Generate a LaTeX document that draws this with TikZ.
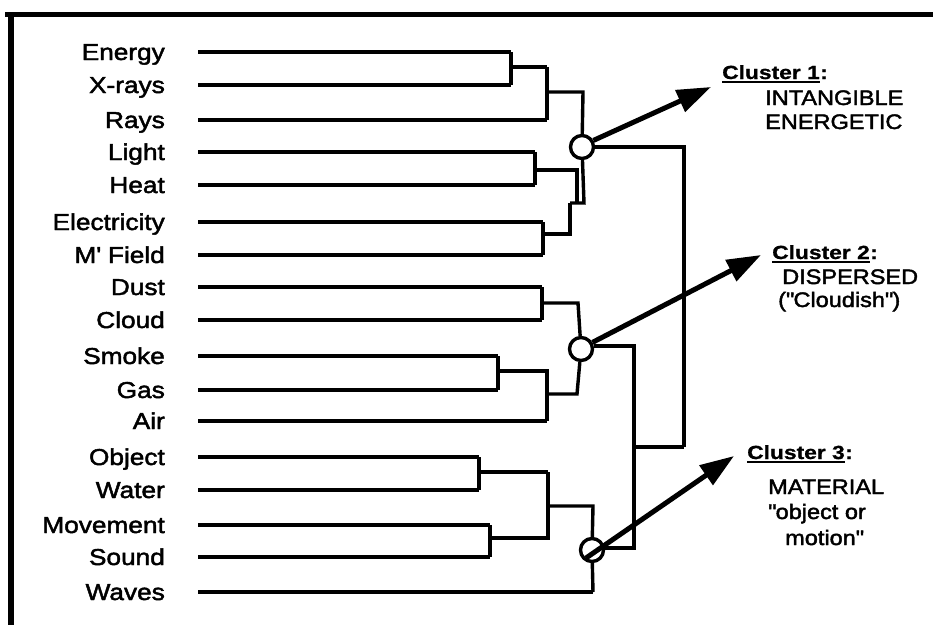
\documentclass[tikz,border=0pt]{standalone}
\usepackage{fontspec}
\usetikzlibrary{arrows.meta}
\newfontfamily\lblfont{Liberation Sans}[FakeStretch=1.14, FakeBold=2]
\newfontfamily\clfont{Liberation Sans}[FakeStretch=1.12, FakeBold=2]
\newfontfamily\hdrfont{Liberation Sans Bold}[FakeStretch=1.2, FakeBold=1]
\tikzset{
  lbl/.style={font=\lblfont\fontsize{23}{26}\selectfont, inner sep=0pt, anchor=base east},
  cltxt/.style={font=\clfont\fontsize{21}{24}\selectfont, inner sep=0pt, anchor=base west},
  hdr/.style={font=\hdrfont\fontsize{19}{22}\selectfont, inner sep=0pt, anchor=base west},
  den/.style={line width=3.4pt, line cap=butt, line join=miter},
  knot/.style={draw, line width=3.4pt, circle, minimum size=23pt, inner sep=0pt, fill=white},
  bigarrow/.style={line width=5pt, -{Triangle[length=34pt,width=23pt]}},
}
\newcommand\leafrow[4]{%
  \node[lbl] (#1) at (165,#3+8) {#2};
  \coordinate (#1s) at (198,#3);
  \coordinate (#1e) at (#4,#3);
  \draw[den] (#1s) -- (#1e);}
\begin{document}
\begin{tikzpicture}[x=1pt,y=-1pt]
\useasboundingbox (0,0) rectangle (933,625);
% frame
\coordinate (ftl) at (11,14.5);
\coordinate (ftr) at (933,14.5);
\coordinate (fbl) at (11,625);
\draw[line width=4.5pt] (5,14.5) -- (ftr);
\draw[line width=6pt] (ftl) -- (fbl);
% leaves
\leafrow{energy}{Energy}{52}{511}
\leafrow{xrays}{X-rays}{85}{511}
\leafrow{rays}{Rays}{120}{547}
\leafrow{light}{Light}{152}{535}
\leafrow{heat}{Heat}{185}{535}
\leafrow{elec}{Electricity}{222}{543}
\leafrow{mfield}{M\textquotesingle\ Field}{255}{543}
\leafrow{dust}{Dust}{287}{542}
\leafrow{cloud}{Cloud}{320}{542}
\leafrow{smoke}{Smoke}{356}{498}
\leafrow{gas}{Gas}{390}{498}
\leafrow{air}{Air}{421}{547}
\leafrow{object}{Object}{457}{479}
\leafrow{water}{Water}{490}{479}
\leafrow{movement}{Movement}{525}{490}
\leafrow{sound}{Sound}{557}{490}
\leafrow{waves}{Waves}{592}{593}
% knots
\node[knot] (k1) at (582,147) {};
\node[knot] (k2) at (581,349) {};
\node[knot] (k3) at (592,550) {};
% cluster 1
\draw[den] (energye) -- (xrayse);
\coordinate (a1) at (511,67); \coordinate (a2) at (547,67);
\draw[den] (a1) -- (a2);
\draw[den] (a2) -- (rayse);
\coordinate (b1) at (547,92); \coordinate (b2) at (583,92);
\draw[den] (b1) -- (b2) -- (k1);
\draw[den] (lighte) -- (heate);
\coordinate (c1) at (535,170); \coordinate (c2) at (577,170); \coordinate (c3) at (577,203);
\draw[den] (c1) -- (c2) -- (c3);
\draw[den] (elece) -- (mfielde);
\coordinate (d1) at (543,234); \coordinate (d2) at (570,234); \coordinate (d3) at (570,203);
\draw[den] (d1) -- (d2) -- (d3);
\coordinate (e1) at (584,203);
\draw[den] (d3) -- (e1) -- (k1);
% cluster 2
\draw[den] (duste) -- (cloude);
\coordinate (f1) at (542,303); \coordinate (f2) at (578,303);
\draw[den] (f1) -- (f2) -- (k2);
\draw[den] (smokee) -- (gase);
\coordinate (g1) at (498,371); \coordinate (g2) at (547,371);
\draw[den] (g1) -- (g2) -- (aire);
\coordinate (h1) at (547,394); \coordinate (h2) at (577,394);
\draw[den] (h1) -- (h2) -- (k2);
% cluster 3
\draw[den] (objecte) -- (watere);
\coordinate (i1) at (479,472); \coordinate (i2) at (548,472);
\draw[den] (i1) -- (i2);
\draw[den] (movemente) -- (sounde);
\coordinate (j1) at (490,538); \coordinate (j2) at (548,538);
\draw[den] (j1) -- (j2) -- (i2);
\coordinate (l1) at (548,506); \coordinate (l2) at (593,506);
\draw[den] (l1) -- (l2) -- (k3);
\draw[den] (wavese) -- (k3);
% joins between clusters
\coordinate (m1) at (684,147); \coordinate (m2) at (684,447);
\draw[den] (k1.east) -- (m1) -- (m2);
\coordinate (n1) at (634,346); \coordinate (n2) at (634,548); \coordinate (n3) at (634,447);
\draw[den] (k2.east |- n1) -- (n1) -- (n2) -- (k3.east |- n2);
\draw[den] (n3) -- (m2);
% arrows
\coordinate (t1) at (711,87);
\coordinate (t2) at (761,255);
\coordinate (t3) at (734,456);
\draw[bigarrow] (k1.30) -- (t1);
\draw[bigarrow] (k2.30) -- (t2);
\draw[bigarrow] ([shift={(-6,8)}]k3.center) -- (t3);
% cluster labels
\node[hdr] (h1t) at (722,79) {Cluster 1};
\node[hdr] (h1c) at (h1t.base east) {:};
\draw[line width=2.2pt] ([yshift=-3]h1t.base west) -- ([yshift=-3]h1t.base east);
\node[cltxt] (h1a) at (765,105) {INTANGIBLE};
\node[cltxt] (h1b) at (765,129) {ENERGETIC};
\node[hdr] (h2t) at (772,259) {Cluster 2};
\node[hdr] (h2c) at (h2t.base east) {:};
\draw[line width=2.2pt] ([yshift=-3]h2t.base west) -- ([yshift=-3]h2t.base east);
\node[cltxt] (h2a) at (782,284) {DISPERSED};
\node[cltxt] (h2b) at (778,307) {(\textquotedbl Cloudish\textquotedbl)};
\node[hdr] (h3t) at (747,459) {Cluster 3};
\node[hdr] (h3c) at (h3t.base east) {:};
\draw[line width=2.2pt] ([yshift=-3]h3t.base west) -- ([yshift=-3]h3t.base east);
\node[cltxt] (h3a) at (768,494) {MATERIAL};
\node[cltxt] (h3b) at (768,519) {\textquotedbl object or};
\node[cltxt] (h3c2) at (785,545) {motion\textquotedbl};
\end{tikzpicture}
\end{document}
